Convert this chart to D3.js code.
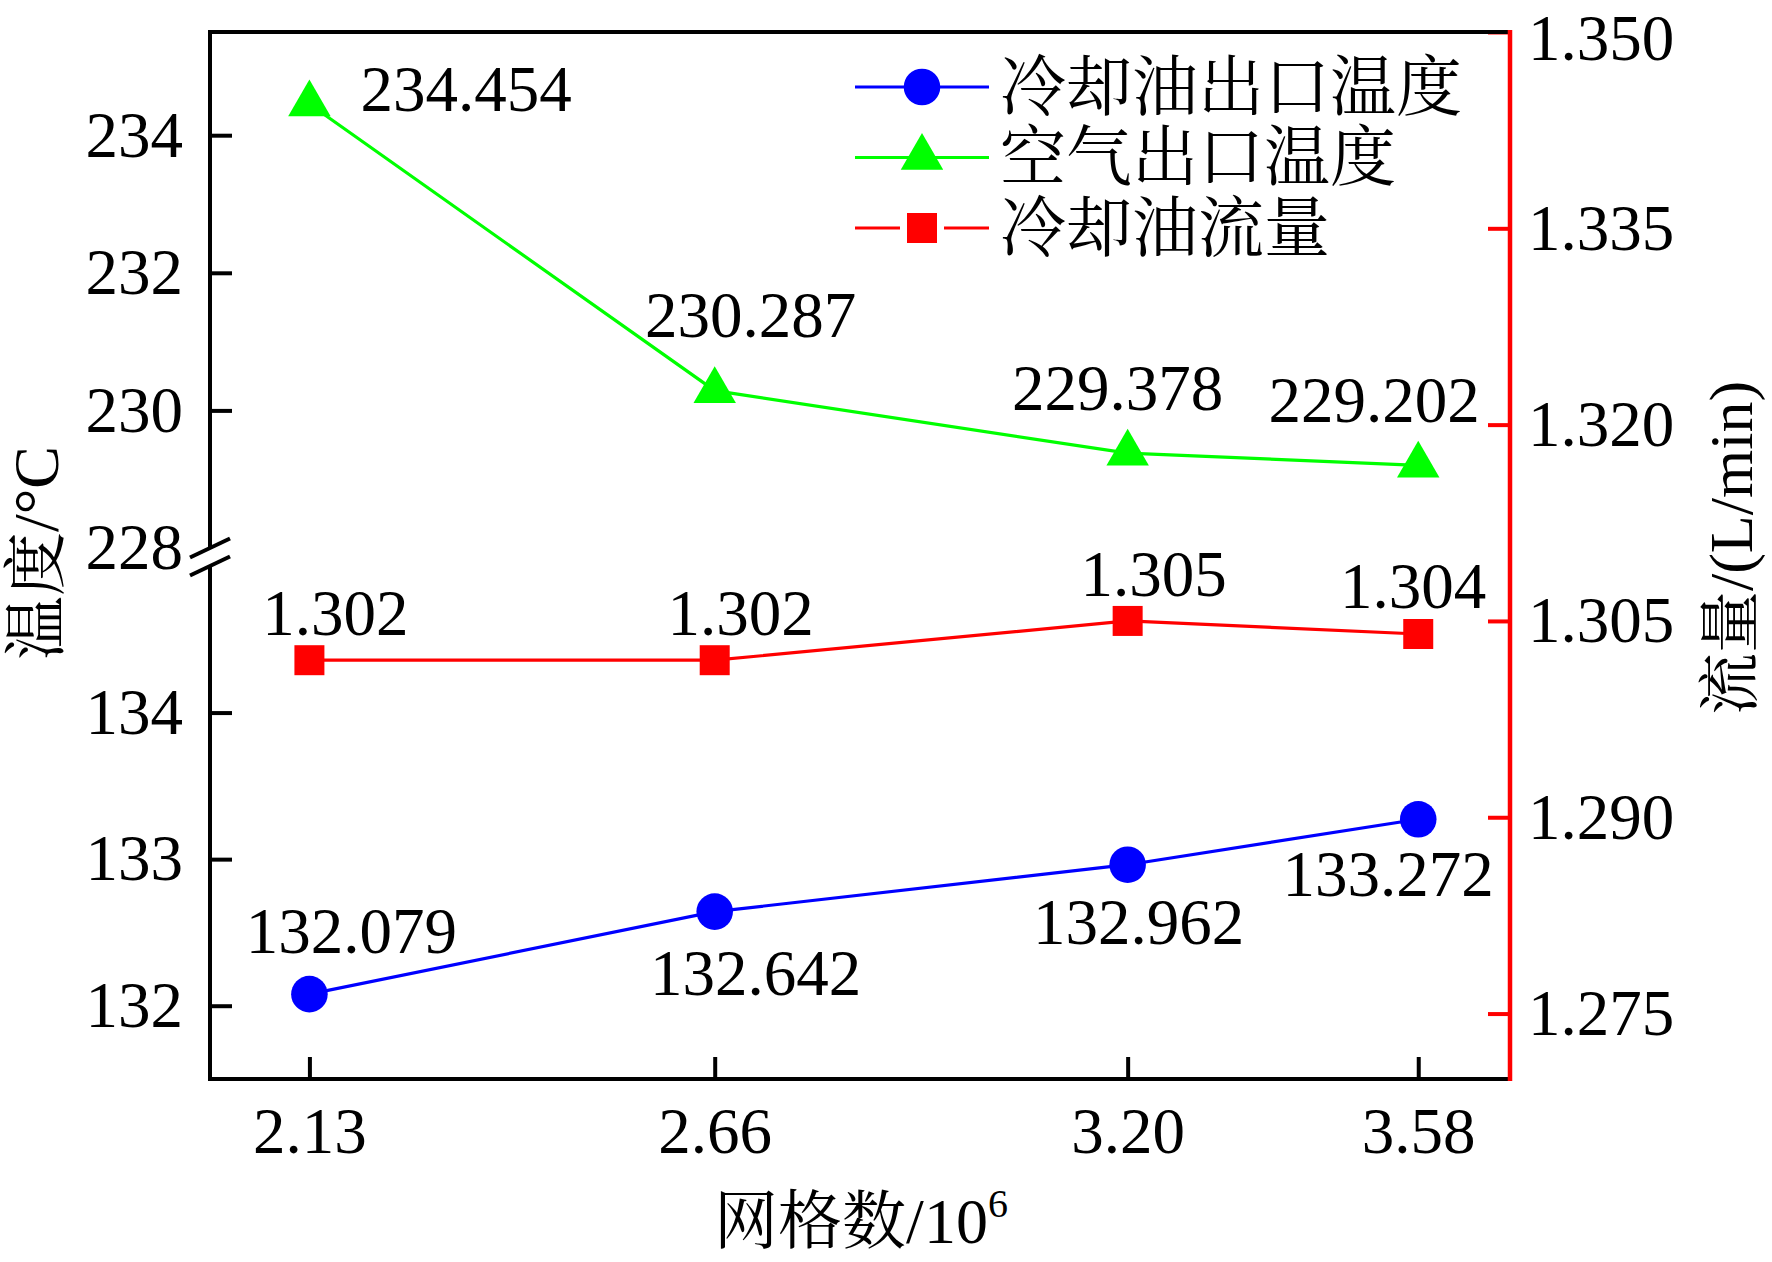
<!DOCTYPE html>
<html>
<head>
<meta charset="utf-8">
<script src="https://cdn.jsdelivr.net/npm/d3@7"></script>
<style>
  body { margin: 0; background: #fff; }
  svg text { font-family: "Liberation Serif", "Times New Roman", "Noto Serif CJK SC", "Noto Sans CJK SC", serif; fill: #000; }
</style>
</head>
<body>
<div id="chart"></div>
<script>
// grid counts (10^6)
const gridCounts = [2.13, 2.66, 3.20, 3.58];
// series values
const oilOutletTemp = [132.079, 132.642, 132.962, 133.272];
const airOutletTemp = [234.454, 230.287, 229.378, 229.202];
const oilFlow = [1.302, 1.302, 1.305, 1.304];
// tick labels
const upperTicks = [228, 230, 232, 234];
const lowerTicks = [132, 133, 134];
const flowTicks = [1.275, 1.290, 1.305, 1.320, 1.335, 1.350];
const seriesNames = ["冷却油出口温度", "空气出口温度", "冷却油流量"];

// label offsets from the point (layout only)
const airLabelOff = [[51, 7, "start"], [36, -54, "middle"], [-10, -43, "middle"], [-44, -43, "middle"]];
const flowLabelOff = [[26, -25], [26, -25], [26, -25], [-5, -26]];
const oilLabelOff = [[42, -41], [41, 83], [11, 79], [-30, 77]];

const W = 1772, H = 1262;
const plotLeft = 210, plotRight = 1510, plotTop = 32, plotBottom = 1079;
const breakTop = 548, breakBot = 566;
const fs = 65;

const svg = d3.select("#chart").append("svg")
    .attr("width", W).attr("height", H);

let x = d3.scaleLinear().domain([2.0, 3.7]).range([plotLeft, plotRight]);
let yUp = d3.scaleLinear().domain([228, 235.5]).range([breakTop, plotTop]);
let yLow = d3.scaleLinear().domain([131.5, 135]).range([plotBottom, breakBot]);
let yR = d3.scaleLinear().domain([1.27, 1.35]).range([plotBottom, plotTop]);

// ---- axes ----
function styleAxis(g, color) {
    g.selectAll("path").remove();
    g.selectAll("line").attr("stroke", color).attr("stroke-width", 4);
    g.selectAll("text").attr("font-size", fs + "px").attr("fill", "#000");
    g.attr("font-family", null);
}

// bottom
svg.append("g")
    .attr("transform", "translate(0," + plotBottom + ")")
    .call(d3.axisBottom(x).tickValues(gridCounts).tickFormat(d3.format(".2f"))
        .tickSizeInner(-22).tickSizeOuter(0).tickPadding(28))
    .call(g => styleAxis(g, "#000"));

// left upper
svg.append("g")
    .attr("transform", "translate(" + plotLeft + ",0)")
    .call(d3.axisLeft(yUp).tickValues(upperTicks).tickFormat(d3.format("d"))
        .tickSizeInner(-22).tickSizeOuter(0).tickPadding(27))
    .call(g => styleAxis(g, "#000"))
    .call(g => g.selectAll(".tick").filter(d => d === 228).select("line").remove());

// left lower
svg.append("g")
    .attr("transform", "translate(" + plotLeft + ",0)")
    .call(d3.axisLeft(yLow).tickValues(lowerTicks).tickFormat(d3.format("d"))
        .tickSizeInner(-22).tickSizeOuter(0).tickPadding(27))
    .call(g => styleAxis(g, "#000"));

// right (flow)
svg.append("g")
    .attr("transform", "translate(" + plotRight + ",0)")
    .call(d3.axisRight(yR).tickValues(flowTicks).tickFormat(d3.format(".3f"))
        .tickSizeInner(-22).tickSizeOuter(0).tickPadding(18))
    .call(g => styleAxis(g, "#ff0000"))
    .call(g => g.selectAll(".tick").filter(d => d === 1.35).select("text").attr("dy", "0.42em"));

// frame lines
svg.append("line").attr("x1", plotLeft - 2).attr("x2", plotRight).attr("y1", plotTop).attr("y2", plotTop)
    .attr("stroke", "#000").attr("stroke-width", 4);
svg.append("line").attr("x1", plotLeft - 2).attr("x2", plotRight).attr("y1", plotBottom).attr("y2", plotBottom)
    .attr("stroke", "#000").attr("stroke-width", 4);
svg.append("line").attr("x1", plotLeft).attr("x2", plotLeft).attr("y1", plotTop).attr("y2", breakTop)
    .attr("stroke", "#000").attr("stroke-width", 4);
svg.append("line").attr("x1", plotLeft).attr("x2", plotLeft).attr("y1", breakBot).attr("y2", plotBottom + 2)
    .attr("stroke", "#000").attr("stroke-width", 4);
svg.append("line").attr("x1", plotRight).attr("x2", plotRight).attr("y1", plotTop - 2).attr("y2", plotBottom + 2)
    .attr("stroke", "#ff0000").attr("stroke-width", 4.5);

// axis break slashes
[breakTop, breakBot].forEach(function(yy) {
    svg.append("line")
        .attr("x1", plotLeft - 20).attr("y1", yy + 9.5)
        .attr("x2", plotLeft + 20).attr("y2", yy - 9.5)
        .attr("stroke", "#000").attr("stroke-width", 4);
});

// ---- series ----
let airPts = gridCounts.map((g, i) => [x(g), yUp(airOutletTemp[i])]);
let flowPts = gridCounts.map((g, i) => [x(g), yR(oilFlow[i])]);
let oilPts = gridCounts.map((g, i) => [x(g), yLow(oilOutletTemp[i])]);

let line = d3.line();

function drawSeries(pts, color, symbol, size) {
    svg.append("path")
        .attr("d", line(pts))
        .attr("fill", "none")
        .attr("stroke", color)
        .attr("stroke-width", 3.2);
    svg.selectAll(null)
        .data(pts)
        .enter().append("path")
        .attr("transform", d => "translate(" + d[0] + "," + d[1] + ")")
        .attr("d", d3.symbol().type(symbol).size(size))
        .attr("fill", color);
}

drawSeries(airPts, "#00ff00", d3.symbolTriangle, 780);
drawSeries(flowPts, "#ff0000", d3.symbolSquare, 900);
drawSeries(oilPts, "#0000ff", d3.symbolCircle, 1050);

// value labels
function drawLabels(pts, values, offs, fmt) {
    svg.selectAll(null)
        .data(pts)
        .enter().append("text")
        .attr("x", (d, i) => d[0] + offs[i][0])
        .attr("y", (d, i) => d[1] + offs[i][1])
        .attr("text-anchor", (d, i) => offs[i][2] || "middle")
        .attr("font-size", fs + "px")
        .text((d, i) => fmt(values[i]));
}
drawLabels(airPts, airOutletTemp, airLabelOff, d3.format(".3f"));
drawLabels(flowPts, oilFlow, flowLabelOff, d3.format(".3f"));
drawLabels(oilPts, oilOutletTemp, oilLabelOff, d3.format(".3f"));

// ---- legend ----
let legend = svg.append("g").attr("transform", "translate(855,87)");
let legendItems = [
    {name: seriesNames[0], color: "#0000ff", symbol: d3.symbolCircle, size: 1050, gap: 0},
    {name: seriesNames[1], color: "#00ff00", symbol: d3.symbolTriangle, size: 780, gap: 0},
    {name: seriesNames[2], color: "#ff0000", symbol: d3.symbolSquare, size: 900, gap: 22}
];
legendItems.forEach(function(it, i) {
    let row = legend.append("g").attr("transform", "translate(0," + (i * 70.5) + ")");
    row.append("line").attr("x1", 0).attr("x2", 67 - it.gap).attr("y1", 0).attr("y2", 0)
        .attr("stroke", it.color).attr("stroke-width", 3.2);
    row.append("line").attr("x1", 67 + it.gap).attr("x2", 134).attr("y1", 0).attr("y2", 0)
        .attr("stroke", it.color).attr("stroke-width", 3.2);
    row.append("path")
        .attr("transform", "translate(67,0)")
        .attr("d", d3.symbol().type(it.symbol).size(it.size))
        .attr("fill", it.color);
    row.append("text")
        .attr("x", 145).attr("y", 0)
        .attr("dominant-baseline", "central")
        .attr("font-size", "66px")
        .text(it.name);
});

// ---- axis titles ----
svg.append("text")
    .attr("transform", "translate(58,553) rotate(-90)")
    .attr("text-anchor", "middle")
    .attr("font-size", "64px")
    .text("温度/°C");

svg.append("text")
    .attr("transform", "translate(1752,548) rotate(-90)")
    .attr("text-anchor", "middle")
    .attr("font-size", "62px")
    .text("流量/(L/min)");

let xt = svg.append("text")
    .attr("x", 861).attr("y", 1243)
    .attr("text-anchor", "middle")
    .attr("font-size", "64px");
xt.append("tspan").text("网格数/10");
xt.append("tspan").attr("font-size", "40px").attr("dy", "-26").text("6");
</script>
</body>
</html>
